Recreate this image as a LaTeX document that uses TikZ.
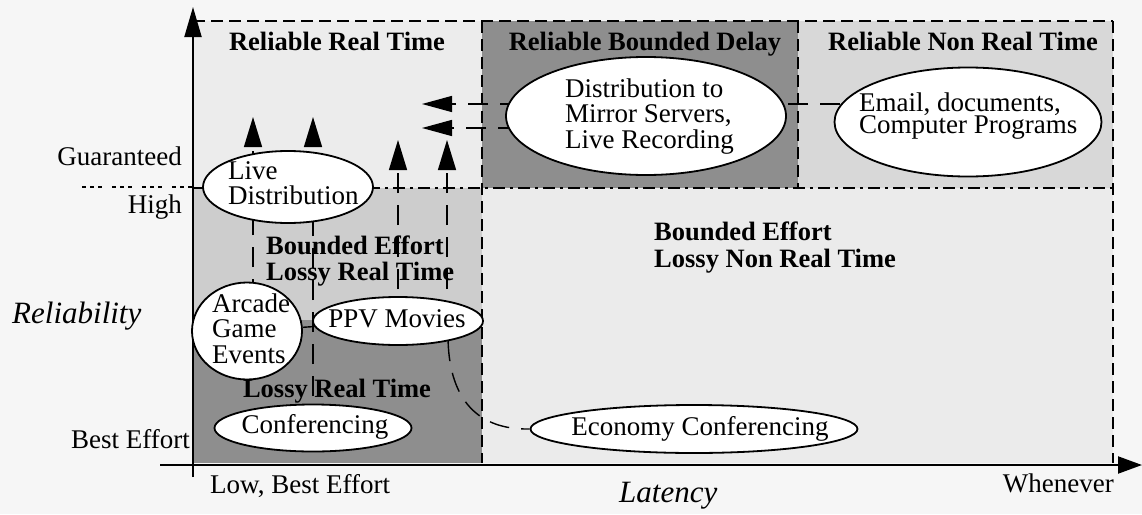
\documentclass[tikz,border=0pt]{standalone}
\usepackage{fontspec}
\setmainfont{Liberation Serif}
\usetikzlibrary{arrows.meta,shapes.geometric}
\definecolor{bgc}{HTML}{F6F6F6}
\definecolor{rrt}{HTML}{ECECEC}
\definecolor{rbd}{HTML}{8E8E8E}
\definecolor{rnrt}{HTML}{D8D8D8}
\definecolor{belrt}{HTML}{CDCDCD}
\definecolor{lrt}{HTML}{8E8E8E}
\definecolor{belnrt}{HTML}{EBEBEB}
\pgfdeclarelayer{back}
\pgfdeclarelayer{conns}
\pgfsetlayers{back,conns,main}
\newcommand{\tightls}{\lineskiplimit=-30pt\relax}
\begin{document}
\begin{tikzpicture}[x=1pt,y=-1pt,
  ell/.style={ellipse,draw,line width=1.8pt,fill=white,inner sep=0pt},
  conn/.style={line width=1.4pt,dash pattern=on 20pt off 12pt},
  tipped/.style={-{Triangle[length=30pt,width=18pt]}},
  ltipped/.style={-{Triangle[length=30pt,width=16pt]}},
  txt/.style={inner sep=0pt,font=\fontsize{27}{25.5}\selectfont},
  mtxt/.style={inner sep=0pt,align=left},
  btxt/.style={inner sep=0pt,font=\fontsize{26.5}{26}\selectfont\bfseries},
  itxt/.style={inner sep=0pt,font=\fontsize{31}{31}\selectfont\itshape},
  border/.style={line width=1.6pt,dash pattern=on 12pt off 6pt},
  dashdot/.style={line width=1.6pt,dash pattern=on 12pt off 5pt on 3pt off 5pt},
  axis/.style={line width=2pt}
]
\useasboundingbox (0,0) rectangle (1142,514);
\begin{pgfonlayer}{back}
\fill[bgc] (0,0) rectangle (1142,514);
\fill[rrt] (193,21) rectangle (482,188);
\fill[rbd] (482,21) rectangle (798,188);
\fill[rnrt] (798,21) rectangle (1113,188);
\fill[belrt] (193,188) rectangle (482,320);
\fill[lrt] (193,320) rectangle (482,463);
\fill[belnrt] (482,188) rectangle (1113,463);
\draw[border] (193,21) -- (1113,21);
\draw[border] (1113,21) -- (1113,463);
\draw[border] (482,21) -- (482,463);
\draw[border] (798,21) -- (798,188);
\draw[dashdot] (193,188) -- (1113,188);
\draw[line width=1.6pt,dash pattern=on 4pt off 4pt on 4pt off 4pt on 4pt off 10pt] (82,187) -- (192,187);
\draw[axis,-{Triangle[length=30pt,width=17pt]}] (193,477) -- (193,7);
\draw[axis,-{Triangle[length=24pt,width=17pt]}] (160,465) -- (1142,465);
\end{pgfonlayer}

% ellipses
\node[ell,minimum width=280pt,minimum height=118pt] (dist) at (646,116) {};
\node[ell,minimum width=267pt,minimum height=109pt] (email) at (968,122) {};
\node[ell,minimum width=170pt,minimum height=72pt] (live) at (288,187) {};
\node[ell,minimum width=110pt,minimum height=97pt] (arc) at (247,331) {};
\node[ell,minimum width=170pt,minimum height=48pt] (ppv) at (398,321) {};
\node[ell,minimum width=197pt,minimum height=47pt] (conf) at (313,428) {};
\node[ell,minimum width=327pt,minimum height=48pt] (econ) at (694,429) {};

% arrow ends
\coordinate (a1) at (253,117);
\coordinate (a2) at (313,117);
\coordinate (a3) at (398,140);
\coordinate (a4) at (447,140);
\coordinate (a5) at (422,104);
\coordinate (a6) at (422,128);

\begin{pgfonlayer}{conns}
\draw[conn,tipped] (a1 |- arc.center) -- (a1);
\draw[conn,tipped] (a2 |- conf.center) -- (a2);
\draw[conn,tipped] (a3 |- ppv.center) -- (a3);
\draw[conn,tipped] (a4 |- ppv.center) -- (a4);
\draw[conn,ltipped] (a5 -| email.center) -- (a5);
\draw[conn,ltipped] (a6 -| dist.center) -- (a6);
\draw[conn] (arc) -- (ppv);
\draw[conn] (ppv.-22) .. controls (450,400) and (478,430) .. (econ.west);
\end{pgfonlayer}

% ellipse texts
\node[mtxt,anchor=north west,font=\fontsize{27}{25.5}\selectfont\tightls] (distT) at (565,78.5) {Distribution to\\Mirror Servers,\\Live Recording};
\node[mtxt,anchor=north west,font=\fontsize{27}{22.5}\selectfont\tightls] (emailT) at (859,92.5) {Email, documents,\\Computer Programs};
\node[mtxt,anchor=north west,font=\fontsize{27}{25}\selectfont\tightls] (liveT) at (228,161.5) {Live\\Distribution};
\node[mtxt,anchor=north west,font=\fontsize{27}{25.5}\selectfont\tightls] (arcT) at (212,293.5) {Arcade\\Game\\Events};
\node[txt,anchor=base] (ppvT) at (397,327) {PPV Movies};
\node[txt,anchor=base] (confT) at (315,433) {Conferencing};
\node[txt,anchor=base] (econT) at (700,435) {Economy Conferencing};

% region titles
\node[btxt,anchor=base] (tRRT) at (337,50) {Reliable Real Time};
\node[btxt,anchor=base] (tRBD) at (645,50) {Reliable Bounded Delay};
\node[btxt,anchor=base] (tRNRT) at (963,50) {Reliable Non Real Time};
\node[mtxt,anchor=north west,font=\fontsize{26.5}{26}\selectfont\bfseries\tightls] (tBELRT) at (266,235.7) {Bounded Effort\\Lossy Real Time};
\node[btxt,anchor=base] (tLRT) at (337,397) {Lossy Real Time};
\node[mtxt,anchor=north west,font=\fontsize{26.5}{27}\selectfont\bfseries\tightls] (tBELNRT) at (654,221.7) {Bounded Effort\\Lossy Non Real Time};

% axis labels
\node[txt,anchor=base east] (lG) at (182,165) {Guaranteed};
\node[txt,anchor=base east] (lH) at (182,213) {High};
\node[txt,anchor=base east] (lBE) at (190,448) {Best Effort};
\node[itxt,anchor=base west] (lRel) at (12,323) {Reliability};
\node[txt,anchor=base west] (lLow) at (210,493) {Low, Best Effort};
\node[itxt,anchor=base west] (lLat) at (619,502) {Latency};
\node[txt,anchor=base east] (lWh) at (1114,492) {Whenever};
\end{tikzpicture}
\end{document}
